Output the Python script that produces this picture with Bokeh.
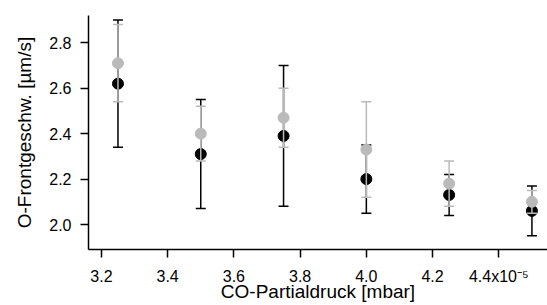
from bokeh.plotting import figure
from bokeh.models import Range1d, FixedTicker, ColumnDataSource
from bokeh.embed import file_html
from bokeh.resources import INLINE

# CO partial pressure in units of 1e-5 mbar
pressure = [3.25, 3.50, 3.75, 4.00, 4.25, 4.50]

# series 1 (black)
v_black = [2.62, 2.31, 2.39, 2.20, 2.13, 2.06]
lo_black = [2.34, 2.07, 2.08, 2.05, 2.04, 1.95]
hi_black = [2.90, 2.55, 2.70, 2.35, 2.22, 2.17]

# series 2 (gray)
v_gray = [2.71, 2.40, 2.47, 2.33, 2.18, 2.10]
lo_gray = [2.54, 2.28, 2.34, 2.12, 2.08, 2.05]
hi_gray = [2.88, 2.52, 2.60, 2.54, 2.28, 2.15]

x_ticks = [3.2, 3.4, 3.6, 3.8, 4.0, 4.2, 4.4]
x_tick_labels = {3.2: "3.2", 3.4: "3.4", 3.6: "3.6", 3.8: "3.8", 4.0: "4.0", 4.2: "4.2", 4.4: "4.4x10\u207b\u2075"}
y_ticks = [2.0, 2.2, 2.4, 2.6, 2.8]

FONT = "Liberation Sans"

p = figure(width=547, height=305, output_backend="svg", toolbar_location=None,
           x_range=Range1d(3.161, 4.547), y_range=Range1d(1.89, 2.92),
           min_border_left=88, min_border_right=0, min_border_top=15, min_border_bottom=56)
p.outline_line_color = None
p.grid.visible = False
p.background_fill_color = "white"
p.border_fill_color = "white"

def draw(vals, lo, hi, color):
    src = ColumnDataSource(dict(x=pressure, y=vals, lo=lo, hi=hi))
    p.segment(x0="x", y0="lo", x1="x", y1="hi", source=src, line_color=color, line_width=1.5)
    p.scatter(x="x", y="lo", source=src, marker="dash", size=10, line_color=color, line_width=1.5)
    p.scatter(x="x", y="hi", source=src, marker="dash", size=10, line_color=color, line_width=1.5)
    p.scatter(x="x", y="y", source=src, marker="circle", size=11, fill_color=color, line_color=color)

draw(v_black, lo_black, hi_black, "black")
draw(v_gray, lo_gray, hi_gray, "#bababa")

for ax in (p.xaxis[0], p.yaxis[0]):
    ax.axis_line_color = "black"
    ax.axis_line_width = 1.5
    ax.major_tick_line_width = 1.5
    ax.major_tick_out = 8
    ax.major_tick_in = 0
    ax.minor_tick_line_color = None
    ax.major_label_text_font = FONT
    ax.major_label_text_font_size = "16px"
    ax.major_label_text_color = "black"
    ax.axis_label_text_font = FONT
    ax.axis_label_text_font_size = "19px"
    ax.axis_label_text_font_style = "normal"
    ax.axis_label_text_color = "black"

p.xaxis.ticker = FixedTicker(ticks=x_ticks)
p.xaxis.major_label_overrides = x_tick_labels
p.xaxis.major_label_standoff = 10
p.xaxis.axis_label = "CO-Partialdruck [mbar]"
p.xaxis.axis_label_standoff = -7

p.yaxis.ticker = FixedTicker(ticks=y_ticks)
p.yaxis.major_label_overrides = {t: f"{t:.1f}" for t in y_ticks}
p.yaxis.major_label_standoff = 9
p.yaxis.axis_label = "O-Frontgeschw. [\u00b5m/s]"
p.yaxis.axis_label_standoff = 11

open("out.html", "w").write(file_html(p, INLINE))
